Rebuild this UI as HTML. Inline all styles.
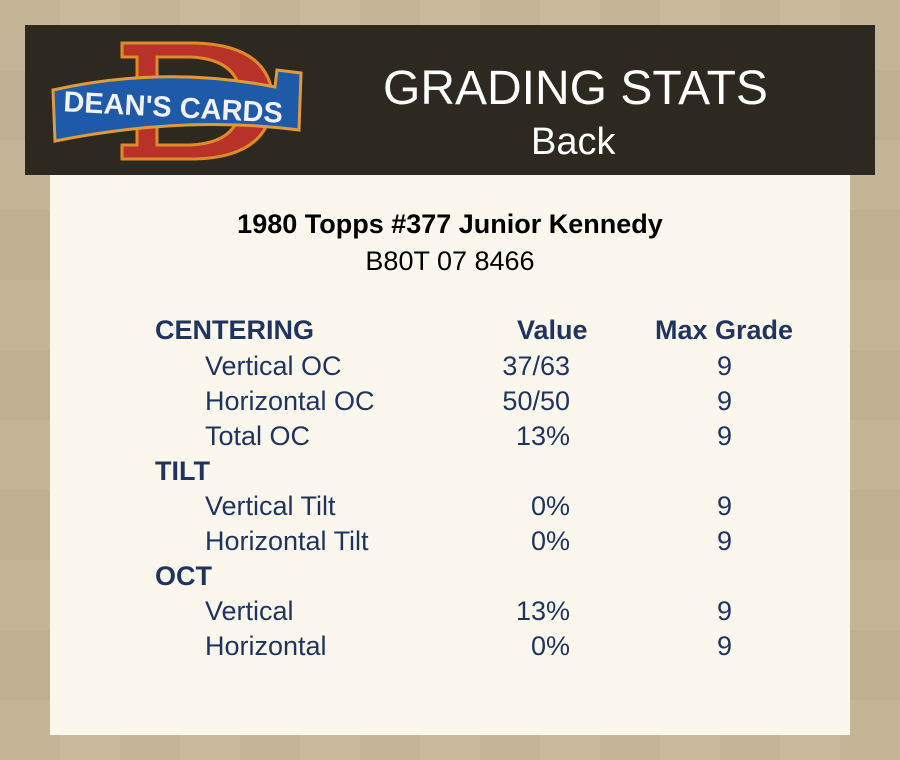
<!DOCTYPE html>
<html><head><meta charset="utf-8"><style>
body{margin:0;width:900px;height:760px;overflow:hidden;background:#c6b695;font-family:"Liberation Sans",Arial,sans-serif;position:relative}
.bg{position:absolute;inset:0;background:
linear-gradient(90deg,rgba(0,0,0,0.02) 0 50%,rgba(255,255,255,0.02) 50%) 0 0/120px 160px,
linear-gradient(0deg,rgba(0,0,0,0.025) 0 50%,rgba(255,255,255,0.015) 50%) 0 0/160px 140px,#c8b898}
.hdr{position:absolute;left:25px;top:25px;width:850px;height:150px;background:#2e2920}
.panel{position:absolute;left:50px;top:175px;width:800px;height:560px;background:#fcf7ed}
.t{position:absolute;white-space:nowrap;line-height:1}
.n{color:#1f3560;font-size:27px}
.b{font-weight:bold}
</style></head><body>
<div class="bg"></div>
<div class="hdr">
<svg width="260" height="130" style="position:absolute;left:20px;top:10px">
<path d="M77 8 H150 Q225 10 228 65 Q225 122 150 124 H77 V110 H92 V22 H77 Z M112 22 V110 H145 Q196 108 196 66 Q196 24 145 22 Z" fill="#b8322a" stroke="#e08a2a" stroke-width="3" fill-rule="evenodd"/>
<path d="M8 55 Q120 30 230 52 L232 35 L256 38 L254 95 Q140 80 10 106 Z" fill="#1f5aa8" stroke="#e09a3a" stroke-width="3"/>
<text x="128" y="82" text-anchor="middle" font-family="Liberation Sans" font-weight="bold" font-size="29" fill="#f2f2f2" transform="rotate(3 128 75)">DEAN'S CARDS</text>
</svg>
<div class="t" style="left:358px;top:40px;color:#fff;font-size:48px">GRADING STATS</div>
<div class="t" style="left:506px;top:98px;color:#fff;font-size:38px">Back</div>
</div>
<div class="panel"></div>
<div class="t b" style="left:0;width:900px;text-align:center;top:211px;font-size:27px;color:#000">1980 Topps #377 Junior Kennedy</div>
<div class="t" style="left:0;width:900px;text-align:center;top:248px;font-size:27px;color:#000">B80T 07 8466</div>

<div class="t n b" style="left:155px;top:317px">CENTERING</div>
<div class="t n b" style="left:517px;top:317px">Value</div>
<div class="t n b" style="left:655px;top:317px">Max Grade</div>

<div class="t n" style="left:205px;top:353px">Vertical OC</div>
<div class="t n" style="left:205px;top:388px">Horizontal OC</div>
<div class="t n" style="left:205px;top:423px">Total OC</div>
<div class="t n b" style="left:155px;top:458px">TILT</div>
<div class="t n" style="left:205px;top:493px">Vertical Tilt</div>
<div class="t n" style="left:205px;top:528px">Horizontal Tilt</div>
<div class="t n b" style="left:155px;top:563px">OCT</div>
<div class="t n" style="left:205px;top:598px">Vertical</div>
<div class="t n" style="left:205px;top:633px">Horizontal</div>

<div class="t n" style="right:330px;top:353px">37/63</div>
<div class="t n" style="right:330px;top:388px">50/50</div>
<div class="t n" style="right:330px;top:423px">13%</div>
<div class="t n" style="right:330px;top:493px">0%</div>
<div class="t n" style="right:330px;top:528px">0%</div>
<div class="t n" style="right:330px;top:598px">13%</div>
<div class="t n" style="right:330px;top:633px">0%</div>

<div class="t n" style="left:717px;top:353px">9</div>
<div class="t n" style="left:717px;top:388px">9</div>
<div class="t n" style="left:717px;top:423px">9</div>
<div class="t n" style="left:717px;top:493px">9</div>
<div class="t n" style="left:717px;top:528px">9</div>
<div class="t n" style="left:717px;top:598px">9</div>
<div class="t n" style="left:717px;top:633px">9</div>
</body></html>
